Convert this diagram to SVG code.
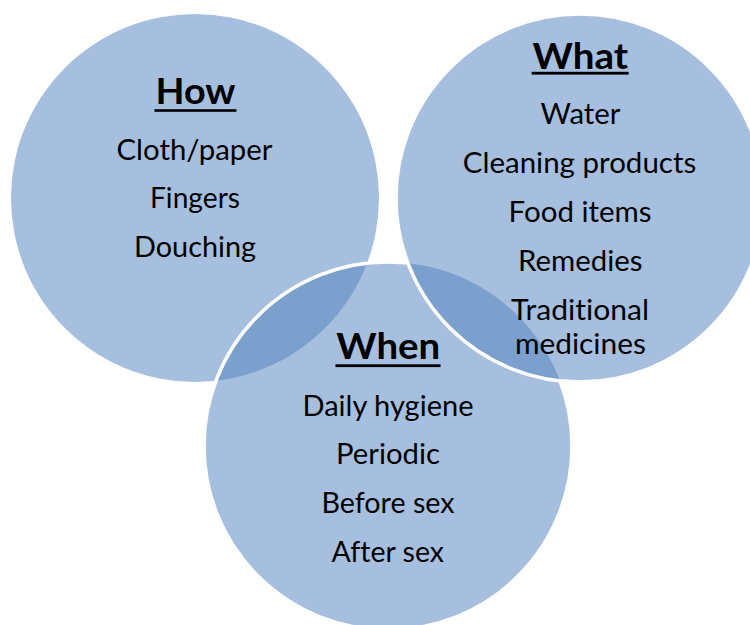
<svg xmlns="http://www.w3.org/2000/svg" width="750" height="625" viewBox="0 0 750 625">
<style>
.fill{fill:#A7BFDE}
.dark{fill:#7BA0CD}
.edge{fill:none;stroke:#FFFFFF;stroke-width:3.5}
text{font-family:Lato,"Open Sans","Liberation Sans",sans-serif;fill:#000;text-anchor:middle;font-variant-ligatures:none;font-feature-settings:"liga" 0,"clig" 0}
.t{font-size:37px;font-weight:bold}
.b{font-size:28.5px}
.u{fill:#000}
</style>
<defs>
<clipPath id="cWhen"><circle cx="388" cy="446" r="184"/></clipPath>
<clipPath id="cWhat"><circle cx="580" cy="198" r="184"/></clipPath>
</defs>
<rect width="750" height="625" fill="#FFFFFF"/>
<g id="how">
<circle class="fill" cx="195" cy="198" r="184"/>
</g>
<g id="when">
<circle class="fill" cx="388" cy="446" r="184"/>
<circle class="dark" cx="195" cy="198" r="184" clip-path="url(#cWhen)"/>
<circle class="edge" cx="388" cy="446" r="184"/>
</g>
<g id="what">
<circle class="fill" cx="580" cy="198" r="184"/>
<circle class="dark" cx="388" cy="446" r="184" clip-path="url(#cWhat)"/>
<circle class="edge" cx="580" cy="198" r="184"/>
</g>
<g id="how-text">
<text class="t" x="195.5" y="104.4" textLength="80" lengthAdjust="spacingAndGlyphs">How</text>
<rect class="u" x="154.5" y="109.2" width="82" height="2.6"/>
<text class="b" x="194.5" y="159.5" textLength="156" lengthAdjust="spacingAndGlyphs">Cloth/paper</text>
<text class="b" x="195" y="208.3" textLength="90" lengthAdjust="spacingAndGlyphs">Fingers</text>
<text class="b" x="195" y="257" textLength="122" lengthAdjust="spacingAndGlyphs">Douching</text>
</g>
<g id="what-text">
<text class="t" x="580.3" y="68.5" textLength="95.5" lengthAdjust="spacingAndGlyphs">What</text>
<rect class="u" x="531.7" y="71.8" width="97" height="2.8"/>
<text class="b" x="580.6" y="123.5" textLength="80" lengthAdjust="spacingAndGlyphs">Water</text>
<text class="b" x="579.5" y="173.3" textLength="233.5" lengthAdjust="spacingAndGlyphs">Cleaning products</text>
<text class="b" x="580.1" y="222" textLength="143" lengthAdjust="spacingAndGlyphs">Food items</text>
<text class="b" x="580.3" y="271" textLength="124.4" lengthAdjust="spacingAndGlyphs">Remedies</text>
<text class="b" x="580.1" y="320" textLength="138" lengthAdjust="spacingAndGlyphs">Traditional</text>
<text class="b" x="580.4" y="353.8" textLength="131" lengthAdjust="spacingAndGlyphs">medicines</text>
</g>
<g id="when-text">
<text class="t" x="388.3" y="358.6" textLength="104" lengthAdjust="spacingAndGlyphs">When</text>
<rect class="u" x="335.5" y="364.3" width="105" height="2.8"/>
<text class="b" x="388" y="415.5" textLength="171" lengthAdjust="spacingAndGlyphs">Daily hygiene</text>
<text class="b" x="388" y="464" textLength="104" lengthAdjust="spacingAndGlyphs">Periodic</text>
<text class="b" x="388" y="513" textLength="133" lengthAdjust="spacingAndGlyphs">Before sex</text>
<text class="b" x="387.8" y="561.8" textLength="112.4" lengthAdjust="spacingAndGlyphs">After sex</text>
</g>
</svg>
